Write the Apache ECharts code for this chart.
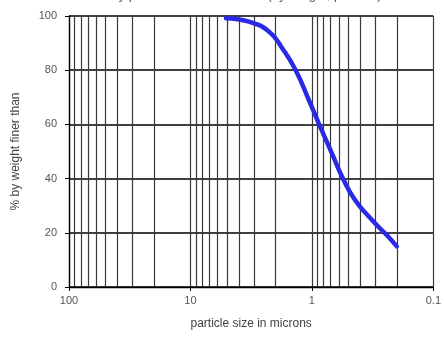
<!DOCTYPE html>
<html>
<head>
<meta charset="utf-8">
<script src="https://cdn.jsdelivr.net/npm/echarts@6/dist/echarts.min.js"></script>
<style>
  html, body { margin: 0; padding: 0; background: #fff; }
  #chart { width: 444px; height: 345px; }
</style>
</head>
<body>
<div id="chart"></div>
<script>
// Cumulative particle size distribution: size in microns vs % by weight finer than
const particleSize = [5.1, 3.3, 2.25, 1.75, 1.36, 1.06, 0.877, 0.68, 0.555, 0.44, 0.32, 0.24, 0.2];
const percentFiner = [99.2, 97.9, 94.2, 88, 80, 69, 60.3, 49, 40, 32, 24.7, 19, 15];

// Intermediate log-cycle grid lines (2..9 within each decade)
const minorGridSizes = [
  90, 80, 70, 60, 50, 40, 30, 20,
  9, 8, 7, 6, 5, 4, 3, 2,
  0.9, 0.8, 0.7, 0.6, 0.5, 0.4, 0.3, 0.2
];
const xTickLabels = { 100: '100', 10: '10', 1: '1', 0.1: '0.1' };
const yTicks = [0, 20, 40, 60, 80, 100];

const chart = echarts.init(document.getElementById('chart'), null, { renderer: 'canvas' });

const fontFamily = '"Liberation Sans", Arial, sans-serif';

chart.setOption({
  animation: false,
  title: {
    text: 'Kaolin clay particle size distribution (by weight, percent)',
    left: 'center',
    top: -16,
    textStyle: { fontFamily, fontSize: 13, fontWeight: 'normal', color: '#555' }
  },
  grid: { left: 69, right: 8, top: 16, bottom: 58 },
  xAxis: {
    type: 'log',
    logBase: 10,
    min: 0.1,
    max: 100,
    inverse: true,
    name: 'particle size in microns',
    nameLocation: 'middle',
    nameGap: 31,
    nameTextStyle: { fontFamily, fontSize: 12, color: '#444' },
    axisLine: { show: true, lineStyle: { color: '#000', width: 1.3 } },
    axisTick: { show: true, length: 4, lineStyle: { color: '#000' } },
    axisLabel: {
      fontFamily, fontSize: 11, color: '#555', margin: 8,
      formatter: v => xTickLabels[+v.toPrecision(3)] ?? ''
    },
    splitLine: { show: true, lineStyle: { color: '#3a3a3a', width: 1.2 } }
  },
  yAxis: {
    type: 'value',
    min: yTicks[0],
    max: yTicks[yTicks.length - 1],
    interval: 20,
    name: '% by weight finer than',
    nameLocation: 'middle',
    nameGap: 47,
    nameTextStyle: { fontFamily, fontSize: 12, color: '#444' },
    axisLine: { show: true, lineStyle: { color: '#000', width: 1.3 } },
    axisTick: { show: true, length: 4, lineStyle: { color: '#000' } },
    axisLabel: { fontFamily, fontSize: 11, color: '#555', margin: 12 },
    splitLine: { show: true, lineStyle: { color: '#000', width: 1.6 } }
  },
  series: [
    {
      type: 'line',
      data: [],
      silent: true,
      z: 1,
      markLine: {
        silent: true,
        symbol: 'none',
        label: { show: false },
        lineStyle: { color: '#3a3a3a', width: 1.2, type: 'solid' },
        data: minorGridSizes.map(v => ({ xAxis: v }))
      }
    },
    {
      type: 'line',
      data: particleSize.map((s, i) => [s, percentFiner[i]]),
      smooth: 0.5,
      showSymbol: false,
      z: 5,
      lineStyle: { color: '#2a2ae6', width: 4.5, cap: 'round' }
    }
  ]
});
</script>
</body>
</html>
